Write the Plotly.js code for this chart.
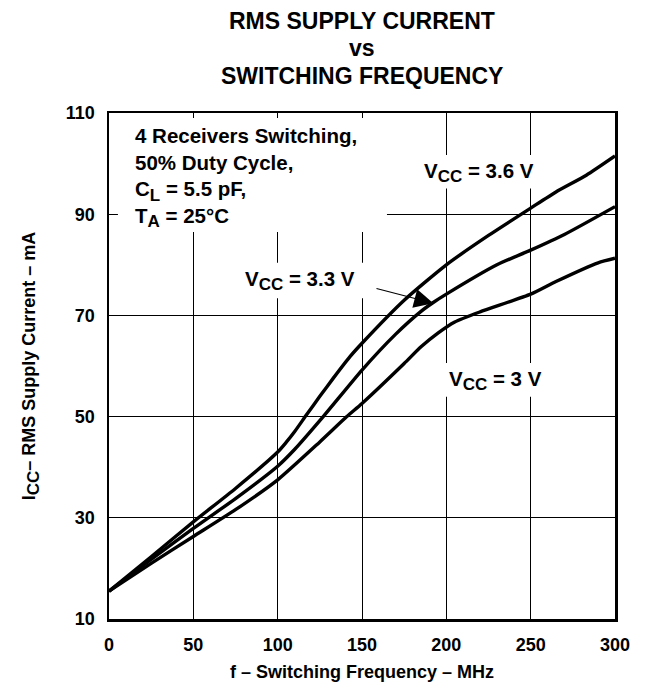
<!DOCTYPE html>
<html>
<head>
<meta charset="utf-8">
<script src="https://cdn.plot.ly/plotly-3.0.1.min.js"></script>
<style>html,body{margin:0;padding:0;background:#fff;}#chart{width:647px;height:686px;}</style>
</head>
<body>
<div id="chart"></div>
<script>
// Data
const freq36 = [0, 25, 50, 75, 100, 105, 110, 117, 125, 133, 143, 150, 175, 200, 225, 250, 265, 283, 300];
const icc36  = [15.5, 22.3, 29.2, 35.8, 43.0, 44.9, 47.0, 50.3, 54.0, 57.6, 61.9, 64.5, 73.0, 80.0, 85.8, 91.2, 94.4, 97.7, 101.5];

const freq33 = [0, 25, 50, 75, 100, 110, 127, 150, 170, 185, 192, 200, 230, 250, 270, 300];
const icc33  = [15.5, 21.8, 27.9, 33.8, 40.2, 43.5, 50.0, 59.2, 66.3, 70.8, 72.5, 74.2, 80.0, 82.9, 86.0, 91.5];

const freq30 = [0, 25, 50, 75, 100, 125, 141, 150, 175, 185, 195, 205, 220, 250, 265, 290, 300];
const icc30  = [15.5, 21.0, 26.3, 31.6, 37.5, 45.0, 50.0, 52.6, 60.5, 63.8, 66.5, 68.7, 70.7, 74.2, 76.7, 80.4, 81.3];

const xTicks = [0, 50, 100, 150, 200, 250, 300];
const yTicks = [10, 30, 50, 70, 90, 110];
const titleLines = ['RMS SUPPLY CURRENT', 'vs', 'SWITCHING FREQUENCY'];

const FONT = 'Arial, "Liberation Sans", Helvetica, sans-serif';
const lineStyle = {color: '#000', width: 3.4, shape: 'spline', smoothing: 0.6};

const traces = [
  {x: freq36, y: icc36, mode: 'lines', line: lineStyle, name: 'VCC = 3.6 V', hoverinfo: 'skip'},
  {x: freq33, y: icc33, mode: 'lines', line: lineStyle, name: 'VCC = 3.3 V', hoverinfo: 'skip'},
  {x: freq30, y: icc30, mode: 'lines', line: lineStyle, name: 'VCC = 3 V', hoverinfo: 'skip'}
];

function whiteBox(x0, x1, y0, y1) {
  return {type: 'rect', xref: 'x', yref: 'y', x0: x0, x1: x1, y0: y0, y1: y1,
          fillcolor: '#fff', line: {width: 0}, layer: 'between'};
}

const annFont = {family: FONT, size: 20.5, color: '#000', weight: 'bold'};
const labFont = {family: FONT, size: 20.5, color: '#000', weight: 'bold'};
const titleFont = {family: FONT, size: 23, color: '#000', weight: 'bold'};
const SUB = (s) => '<sub><span style="font-size:17px">' + s + '</span></sub>';

// pixel row -> paper y (plot area spans rows 113..619)
const py = (p) => (619 - p) / 506;
const titleRows = [21, 48, 76];

const titleAnns = titleLines.map((t, i) => ({
  x: 0.5, y: py(titleRows[i]), xref: 'paper', yref: 'paper', xanchor: 'center', yanchor: 'middle',
  showarrow: false, font: titleFont, text: t
}));

const layout = {
  width: 647, height: 686,
  margin: {l: 109, r: 32, t: 113, b: 67},
  paper_bgcolor: '#fff', plot_bgcolor: '#fff',
  showlegend: false,
  xaxis: {
    range: [0, 300], tickvals: xTicks, ticktext: xTicks.map(String),
    showgrid: true, gridcolor: '#000', gridwidth: 1,
    zeroline: false, showline: true, linecolor: '#000', linewidth: 2.5, mirror: true,
    ticks: '', ticklabelstandoff: 8,
    tickfont: {family: FONT, size: 18, color: '#000', weight: 'bold'},
    title: {text: 'f – Switching Frequency – MHz', standoff: 12,
            font: {family: FONT, size: 18, color: '#000', weight: 'bold'}}
  },
  yaxis: {
    range: [10, 110], tickvals: yTicks, ticktext: yTicks.map(String),
    showgrid: true, gridcolor: '#000', gridwidth: 1,
    zeroline: false, showline: true, linecolor: '#000', linewidth: 2.5, mirror: true,
    ticks: '', ticklabelstandoff: 8,
    tickfont: {family: FONT, size: 18, color: '#000', weight: 'bold'},
    title: {text: 'I' + SUB('CC') + '– RMS Supply Current – mA', standoff: 26,
            font: {family: FONT, size: 18, color: '#000', weight: 'bold'}}
  },
  shapes: [
    whiteBox(5.3, 164.8, 86.5, 109.0),
    whiteBox(181, 258, 95.1, 101.7),
    whiteBox(74.7, 154.7, 73.4, 80.4),
    whiteBox(196, 261, 53.9, 60.6)
  ],
  annotations: titleAnns.concat([
    {x: 14, y: 108.2, xref: 'x', yref: 'y', xanchor: 'left', yanchor: 'top', align: 'left',
     showarrow: false, font: annFont,
     text: '4 Receivers Switching,<br>50% Duty Cycle,<br>C' + SUB('L') + ' = 5.5 pF,<br>T' + SUB('A') + ' = 25°C'},
    {x: 219.3, y: 98.3, xref: 'x', yref: 'y', showarrow: false, font: labFont,
     text: 'V' + SUB('CC') + ' = 3.6 V'},
    {x: 113.4, y: 76.8, xref: 'x', yref: 'y', showarrow: false, font: labFont,
     text: 'V' + SUB('CC') + ' = 3.3 V'},
    {x: 229.4, y: 57.2, xref: 'x', yref: 'y', showarrow: false, font: labFont,
     text: 'V' + SUB('CC') + ' = 3 V'},
    {x: 192.3, y: 72.4, xref: 'x', yref: 'y', axref: 'x', ayref: 'y', ax: 157.7, ay: 75.4,
     text: '', showarrow: true, arrowhead: 2, arrowsize: 3.2, arrowwidth: 1.2, arrowcolor: '#000',
     standoff: 0, startstandoff: 0}
  ])
};

Plotly.newPlot('chart', traces, layout, {displayModeBar: false, staticPlot: true});
</script>
</body>
</html>
